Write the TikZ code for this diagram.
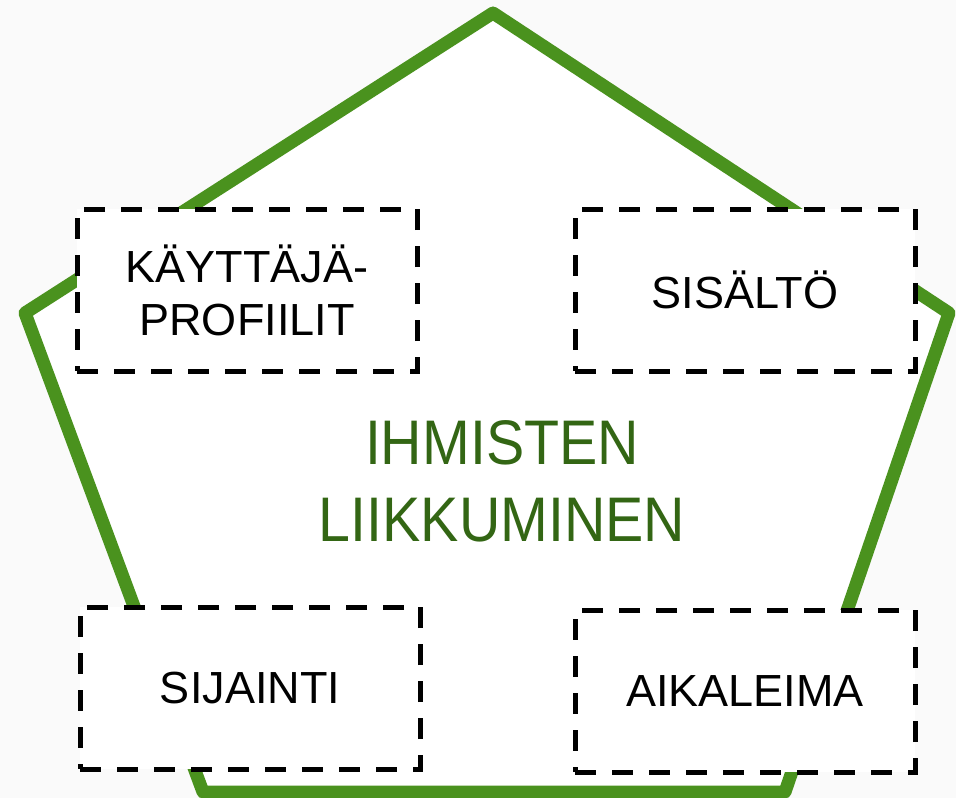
\documentclass[tikz,border=0pt]{standalone}
\usepackage{fontspec}
\setmainfont{Liberation Sans}
\newfontfamily\titlefont[FakeStretch=0.91]{Liberation Sans}
\usepackage{xcolor}
\usepackage{tikz}
\usetikzlibrary{shapes,arrows}

\definecolor{bggray}{HTML}{FAFAFA}
\definecolor{pentagreen}{HTML}{4A921E}
\definecolor{titlegreen}{HTML}{336614}

\tikzset{
  field/.style={draw,fill=white,line width=5pt,dash pattern=on 21pt off 16pt,
    minimum width=340pt,minimum height=162pt,inner sep=0pt,align=center,
    font=\fontsize{45}{53}\selectfont}
}

\begin{document}
\begin{tikzpicture}[x=1pt,y=-1pt]

\useasboundingbox (0,0) rectangle (956,798);
\clip (0,0) rectangle (956,798);
\fill [bggray] (0,0) rectangle (956,798);

\coordinate (c1) at (493,13);
\coordinate (c2) at (949,313);
\coordinate (c3) at (785,792);
\coordinate (c4) at (203,792);
\coordinate (c5) at (25,313);

\draw [pentagreen,line width=13pt,line join=round,fill=white] (c1) -- (c2) -- (c3) -- (c4) -- (c5) -- cycle;

\node [titlegreen,align=center,font=\titlefont\fontsize{63}{77}\selectfont] (v0) at (502,481) {IHMISTEN\\LIIKKUMINEN};

\node [field] (v1) at (247,290) {KÄYTTÄJÄ-\\PROFIILIT};
\node [field] (v2) at (745,290) {SISÄLTÖ};
\node [field] (v3) at (250,688) {SIJAINTI};
\node [field] (v4) at (745,691) {AIKALEIMA};

\end{tikzpicture}
\end{document}
